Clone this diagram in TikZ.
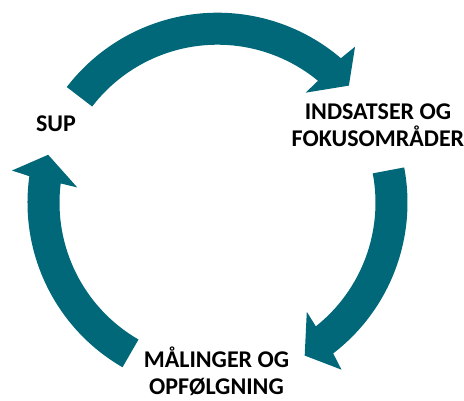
\documentclass[tikz,border=0pt]{standalone}
\usepackage{fontspec}
\setmainfont{Carlito}
\usepackage{tikz}
\usetikzlibrary{calc}
\definecolor{cycleteal}{RGB}{0,104,120}
\def\cyclearrow[#1](#2:#3){\fill[#1] (#2:190) arc (#2:#3:190) -- ({#3-0.9}:208) -- ({#3-7.8}:176) -- ({#3+1.8}:141) -- ({#3+1.0}:158) arc ({#3+1.0}:#2:158) -- cycle;}

\begin{document}
\begin{tikzpicture}[x=1pt, y=1pt,
	steplabel/.style={font=\fontsize{24}{26.7}\selectfont\bfseries, align=center, inner sep=0pt, anchor=base}]
			%%%%% START %%%%%
			
			\useasboundingbox (-217.5, -198.3) rectangle (246.5, 202.7);
			
			\cyclearrow[cycleteal](142.5:49.5)
			\cyclearrow[cycleteal](10.7:-52.5)
			\cyclearrow[cycleteal](240:172)
			
			\node[steplabel] (sup) at (-161.5, 71) {SUP};
			\node[steplabel] (indsatser) at (160.5, 56) {INDSATSER OG\\FOKUSOMRÅDER};
			\node[steplabel] (maalinger) at (-1, -191.5) {MÅLINGER OG\\OPFØLGNING};
			
			%%%%% END %%%%%
		\end{tikzpicture}
\end{document}
